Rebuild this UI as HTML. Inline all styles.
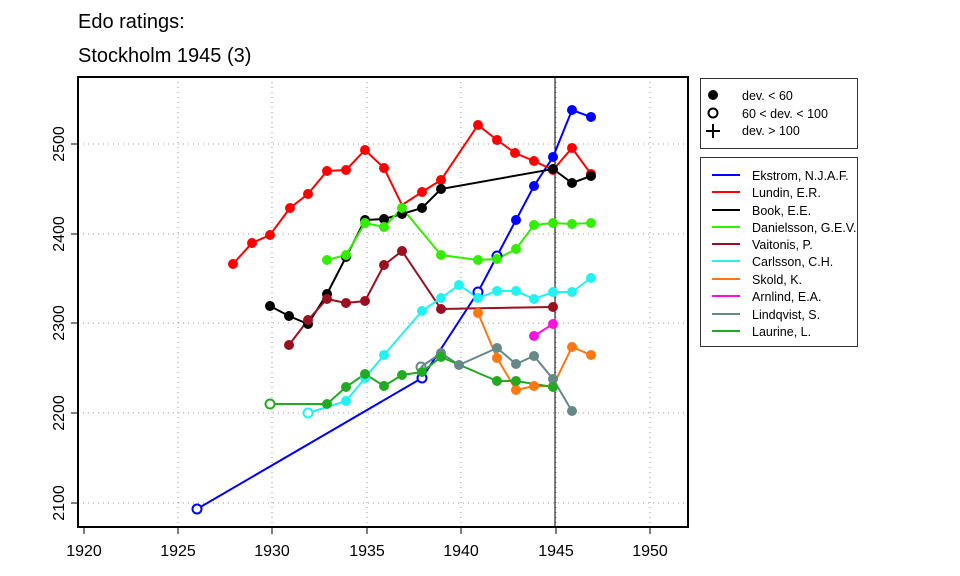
<!DOCTYPE html>
<html><head><meta charset="utf-8"><style>body{margin:0;background:#fff}svg{display:block}text{font-family:"Liberation Sans",sans-serif}</style></head>
<body>
<svg width="960" height="576" xmlns="http://www.w3.org/2000/svg">
<text x="78" y="28" font-size="20">Edo ratings:</text>
<text x="78" y="62" font-size="20">Stockholm 1945 (3)</text>
<g stroke="#999" stroke-dasharray="1,4" stroke-width="1">
<line x1="178" y1="77" x2="178" y2="527"/><line x1="272" y1="77" x2="272" y2="527"/><line x1="367" y1="77" x2="367" y2="527"/><line x1="461" y1="77" x2="461" y2="527"/><line x1="556" y1="77" x2="556" y2="527"/><line x1="650" y1="77" x2="650" y2="527"/>
<line x1="78" y1="144" x2="688" y2="144"/><line x1="78" y1="234" x2="688" y2="234"/><line x1="78" y1="323" x2="688" y2="323"/><line x1="78" y1="413" x2="688" y2="413"/><line x1="78" y1="503" x2="688" y2="503"/>
</g>
<line x1="555" y1="77" x2="555" y2="527" stroke="#000" stroke-width="1"/>
<g fill="none" stroke-width="2">
<polyline stroke="#0000ff" points="197,509 422,378 478,292 497,256 516,220 534,186 553,157 572,110 591,117"/>
<polyline stroke="#ff0000" points="233,264 252,243 270,235 290,208 308,194 327,171 346,170 365,150 384,168 402,205 422,192 441,180 478,125 497,140 515,153 534,161 553,170 572,148 591,174"/>
<polyline stroke="#000" points="270,306 289,316 308,324 327,294 346,257 365,220 384,219 402,214 422,208 441,189 553,169 572,183 591,176"/>
<polyline stroke="#33ee00" points="327,260 346,255 365,223 384,227 402,208 441,255 478,260 497,259 516,249 534,225 553,223 572,224 591,223"/>
<polyline stroke="#9a1020" points="289,345 308,320 327,299 346,303 365,301 384,265 402,251 441,309 553,307"/>
<polyline stroke="#22f2f2" points="308,413 346,401 365,378 384,355 422,311 441,298 459,285 478,298 497,291 516,291 534,299 553,292 572,292 591,278"/>
<polyline stroke="#ff7711" points="478,313 497,358 516,390 534,386 553,386 572,347 591,355"/>
<polyline stroke="#ff11dd" points="534,336 553,324"/>
<polyline stroke="#668888" points="421,367 441,353 459,365 497,348 516,364 534,356 553,379 572,411"/>
<polyline stroke="#22aa22" points="270,404 327,404 346,387 365,374 384,386 402,375 422,372 441,357 497,381 516,381 553,387"/>
</g>
<g fill="#0000ff"><circle cx="516" cy="220" r="5"/><circle cx="534" cy="186" r="5"/><circle cx="553" cy="157" r="5"/><circle cx="572" cy="110" r="5"/><circle cx="591" cy="117" r="5"/></g>
<g fill="#fff" stroke="#0000ff" stroke-width="2"><circle cx="197" cy="509" r="4.5"/><circle cx="422" cy="378" r="4.5"/><circle cx="478" cy="292" r="4.5"/><circle cx="497" cy="256" r="4.5"/></g>
<g fill="#ff0000"><circle cx="233" cy="264" r="5"/><circle cx="252" cy="243" r="5"/><circle cx="270" cy="235" r="5"/><circle cx="290" cy="208" r="5"/><circle cx="308" cy="194" r="5"/><circle cx="327" cy="171" r="5"/><circle cx="346" cy="170" r="5"/><circle cx="365" cy="150" r="5"/><circle cx="384" cy="168" r="5"/><circle cx="422" cy="192" r="5"/><circle cx="441" cy="180" r="5"/><circle cx="478" cy="125" r="5"/><circle cx="497" cy="140" r="5"/><circle cx="515" cy="153" r="5"/><circle cx="534" cy="161" r="5"/><circle cx="553" cy="170" r="5"/><circle cx="572" cy="148" r="5"/><circle cx="591" cy="174" r="5"/></g>
<g fill="#000"><circle cx="270" cy="306" r="5"/><circle cx="289" cy="316" r="5"/><circle cx="308" cy="324" r="5"/><circle cx="327" cy="294" r="5"/><circle cx="346" cy="257" r="5"/><circle cx="365" cy="220" r="5"/><circle cx="384" cy="219" r="5"/><circle cx="402" cy="214" r="5"/><circle cx="422" cy="208" r="5"/><circle cx="441" cy="189" r="5"/><circle cx="553" cy="169" r="5"/><circle cx="572" cy="183" r="5"/><circle cx="591" cy="176" r="5"/></g>
<g fill="#33ee00"><circle cx="327" cy="260" r="5"/><circle cx="346" cy="255" r="5"/><circle cx="365" cy="223" r="5"/><circle cx="384" cy="227" r="5"/><circle cx="402" cy="208" r="5"/><circle cx="441" cy="255" r="5"/><circle cx="478" cy="260" r="5"/><circle cx="497" cy="259" r="5"/><circle cx="516" cy="249" r="5"/><circle cx="534" cy="225" r="5"/><circle cx="553" cy="223" r="5"/><circle cx="572" cy="224" r="5"/><circle cx="591" cy="223" r="5"/></g>
<g fill="#9a1020"><circle cx="289" cy="345" r="5"/><circle cx="308" cy="320" r="5"/><circle cx="327" cy="299" r="5"/><circle cx="346" cy="303" r="5"/><circle cx="365" cy="301" r="5"/><circle cx="384" cy="265" r="5"/><circle cx="402" cy="251" r="5"/><circle cx="441" cy="309" r="5"/><circle cx="553" cy="307" r="5"/></g>
<g fill="#22f2f2"><circle cx="346" cy="401" r="5"/><circle cx="365" cy="378" r="5"/><circle cx="384" cy="355" r="5"/><circle cx="422" cy="311" r="5"/><circle cx="441" cy="298" r="5"/><circle cx="459" cy="285" r="5"/><circle cx="478" cy="298" r="5"/><circle cx="497" cy="291" r="5"/><circle cx="516" cy="291" r="5"/><circle cx="534" cy="299" r="5"/><circle cx="553" cy="292" r="5"/><circle cx="572" cy="292" r="5"/><circle cx="591" cy="278" r="5"/></g>
<circle cx="308" cy="413" r="4.5" fill="#fff" stroke="#22f2f2" stroke-width="2"/>
<g fill="#ff7711"><circle cx="478" cy="313" r="5"/><circle cx="497" cy="358" r="5"/><circle cx="516" cy="390" r="5"/><circle cx="534" cy="386" r="5"/><circle cx="553" cy="386" r="5"/><circle cx="572" cy="347" r="5"/><circle cx="591" cy="355" r="5"/></g>
<g fill="#ff11dd"><circle cx="534" cy="336" r="5"/><circle cx="553" cy="324" r="5"/></g>
<g fill="#668888"><circle cx="441" cy="353" r="5"/><circle cx="459" cy="365" r="5"/><circle cx="497" cy="348" r="5"/><circle cx="516" cy="364" r="5"/><circle cx="534" cy="356" r="5"/><circle cx="553" cy="379" r="5"/><circle cx="572" cy="411" r="5"/></g>
<circle cx="421" cy="367" r="4.5" fill="none" stroke="#668888" stroke-width="2"/>
<g fill="#22aa22"><circle cx="327" cy="404" r="5"/><circle cx="346" cy="387" r="5"/><circle cx="365" cy="374" r="5"/><circle cx="384" cy="386" r="5"/><circle cx="402" cy="375" r="5"/><circle cx="422" cy="372" r="5"/><circle cx="441" cy="357" r="5"/><circle cx="497" cy="381" r="5"/><circle cx="516" cy="381" r="5"/><circle cx="553" cy="387" r="5"/></g>
<circle cx="270" cy="404" r="4.5" fill="#fff" stroke="#22aa22" stroke-width="2"/>
<rect x="78" y="77" width="610" height="450" fill="none" stroke="#000" stroke-width="2"/>
<g stroke="#000" stroke-width="1">
<line x1="84" y1="527" x2="84" y2="534"/><line x1="178" y1="527" x2="178" y2="534"/><line x1="272" y1="527" x2="272" y2="534"/><line x1="367" y1="527" x2="367" y2="534"/><line x1="461" y1="527" x2="461" y2="534"/><line x1="556" y1="527" x2="556" y2="534"/><line x1="650" y1="527" x2="650" y2="534"/>
<line x1="71" y1="144" x2="78" y2="144"/><line x1="71" y1="234" x2="78" y2="234"/><line x1="71" y1="323" x2="78" y2="323"/><line x1="71" y1="413" x2="78" y2="413"/><line x1="71" y1="503" x2="78" y2="503"/>
</g>
<g font-size="16" text-anchor="middle">
<text x="84" y="556">1920</text><text x="178" y="556">1925</text><text x="272" y="556">1930</text><text x="367" y="556">1935</text><text x="461" y="556">1940</text><text x="556" y="556">1945</text><text x="650" y="556">1950</text>
<text transform="translate(64,144) rotate(-90)">2500</text><text transform="translate(64,234) rotate(-90)">2400</text><text transform="translate(64,323) rotate(-90)">2300</text><text transform="translate(64,413) rotate(-90)">2200</text><text transform="translate(64,503) rotate(-90)">2100</text>
</g>
<rect x="700.5" y="78.5" width="157" height="70" fill="#fff" stroke="#333"/>
<circle cx="713" cy="95" r="5" fill="#000"/>
<circle cx="713" cy="113" r="4.5" fill="none" stroke="#000" stroke-width="2"/>
<path d="M706 131h14M713 124v14" stroke="#000" stroke-width="2"/>
<g font-size="12.5"><text x="742" y="100">dev. &lt; 60</text><text x="742" y="118">60 &lt; dev. &lt; 100</text><text x="742" y="135">dev. &gt; 100</text></g>
<rect x="700.5" y="157.5" width="157" height="189" fill="#fff" stroke="#333"/>
<g stroke-width="2">
<line x1="712" y1="175" x2="740" y2="175" stroke="#0000ff"/><line x1="712" y1="192" x2="740" y2="192" stroke="#ff0000"/><line x1="712" y1="210" x2="740" y2="210" stroke="#000"/><line x1="712" y1="227" x2="740" y2="227" stroke="#33ee00"/><line x1="712" y1="244" x2="740" y2="244" stroke="#9a1020"/><line x1="712" y1="261" x2="740" y2="261" stroke="#22f2f2"/><line x1="712" y1="279" x2="740" y2="279" stroke="#ff7711"/><line x1="712" y1="296" x2="740" y2="296" stroke="#ff11dd"/><line x1="712" y1="314" x2="740" y2="314" stroke="#668888"/><line x1="712" y1="331" x2="740" y2="331" stroke="#22aa22"/>
</g>
<g font-size="12.5">
<text x="752" y="180">Ekstrom, N.J.A.F.</text><text x="752" y="197">Lundin, E.R.</text><text x="752" y="215">Book, E.E.</text><text x="752" y="232">Danielsson, G.E.V.</text><text x="752" y="249">Vaitonis, P.</text><text x="752" y="266">Carlsson, C.H.</text><text x="752" y="284">Skold, K.</text><text x="752" y="301">Arnlind, E.A.</text><text x="752" y="319">Lindqvist, S.</text><text x="752" y="336">Laurine, L.</text>
</g>
</svg>
</body></html>
